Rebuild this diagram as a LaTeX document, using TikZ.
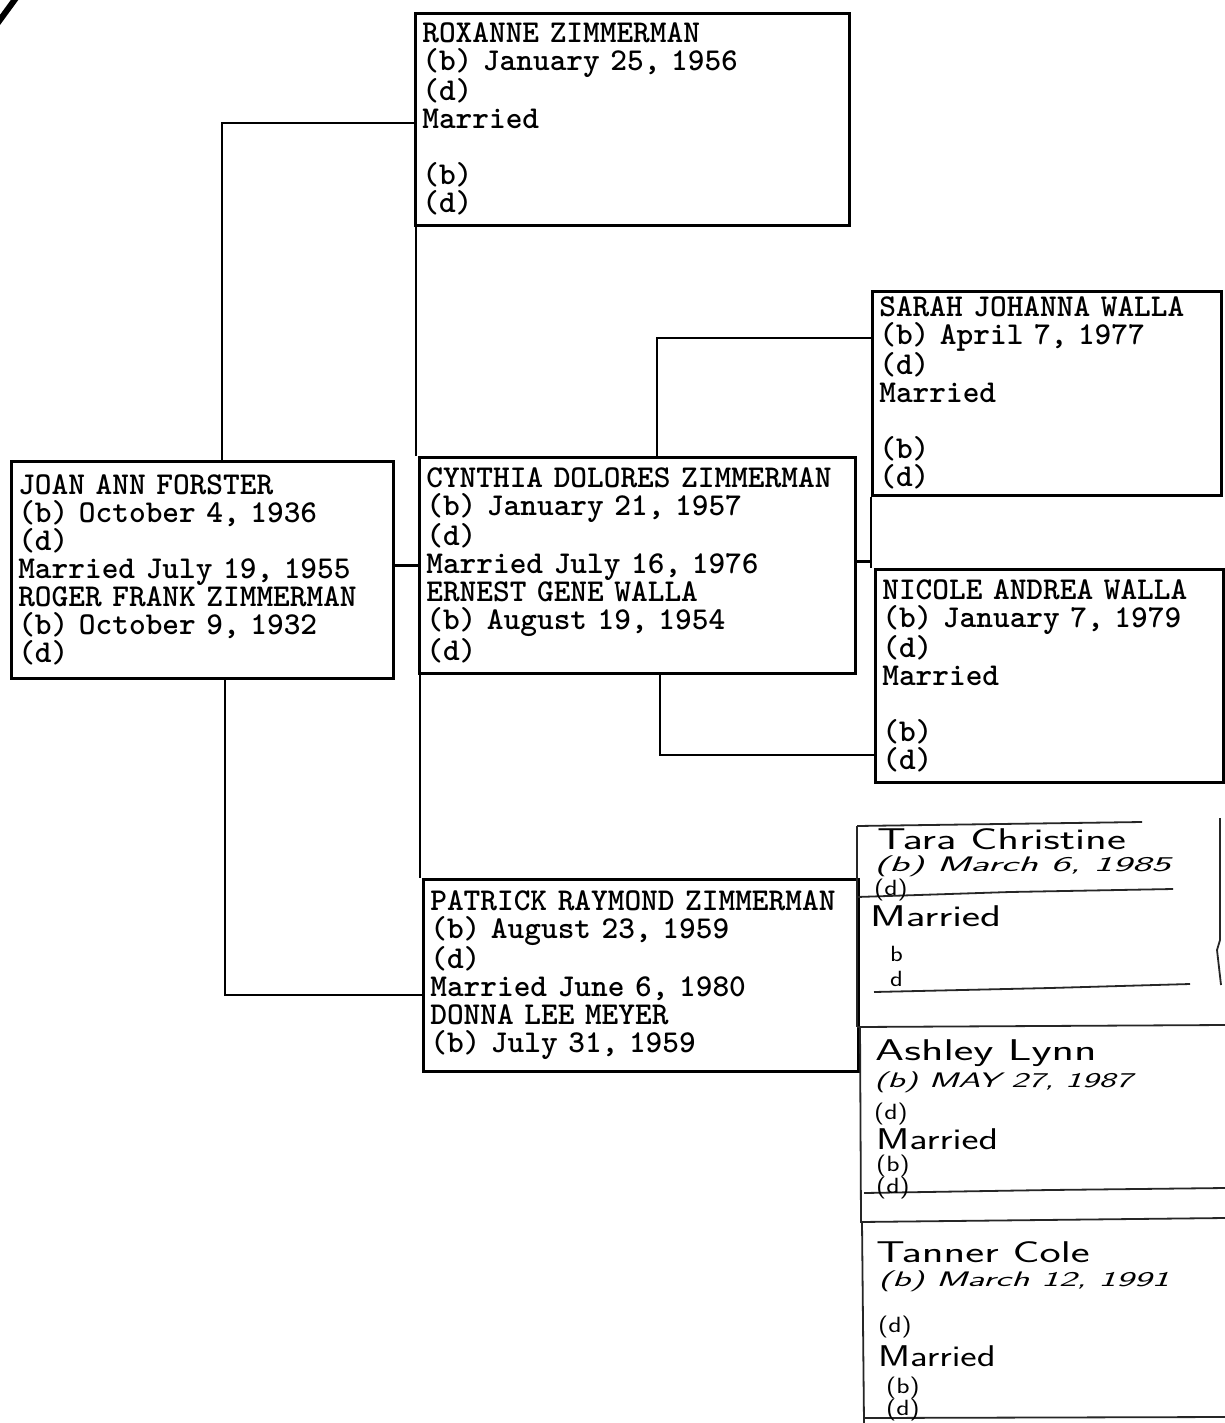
\documentclass[tikz,border=0pt]{standalone}
\usepackage{fontspec}
\usetikzlibrary{calc}
\newcommand\typedfont{\fontsize{31.8pt}{28pt}\selectfont\ttfamily\bfseries}
\newcommand\handfont{\fontsize{30pt}{30pt}\selectfont\sffamily}
\newcommand\handsmall{\fontsize{22pt}{22pt}\selectfont\sffamily}
\newcommand\handdate{\fontsize{21pt}{21pt}\selectfont\sffamily\itshape}
\newcommand\hw[2]{\scalebox{#1}[1]{#2}}
\tikzset{
  famcard/.style={draw, line width=2.6pt, anchor=north west, inner sep=0pt,
    inner xsep=7pt, align=left, font=\typedfont},
  link/.style={line width=2.8pt},
  handline/.style={line width=1.8pt, black!85},
  handname/.style={anchor=base west, inner sep=0pt, font=\handfont},
  handsm/.style={anchor=base west, inner sep=0pt, font=\handsmall},
  handdt/.style={anchor=base west, inner sep=0pt, font=\handdate},
}
\begin{document}
\begin{tikzpicture}[x=1pt,y=-1pt]
\useasboundingbox[fill=white] (0,0) rectangle (1225,1423);

% typed cards
\node[famcard, text width=420pt, minimum height=212pt] (rox) at (414,12)
  {ROXANNE ZIMMERMAN\\(b) January 25, 1956\\(d)\\Married\\\mbox{}\\(b)\\(d)};
\node[famcard, text width=368pt, minimum height=217pt] (joan) at (10,460)
  {JOAN ANN FORSTER\\(b) October 4, 1936\\(d)\\Married July 19, 1955\\ROGER FRANK ZIMMERMAN\\(b) October 9, 1932\\(d)};
\node[famcard, text width=422pt, minimum height=216pt] (cyn) at (418,456)
  {CYNTHIA DOLORES ZIMMERMAN\\(b) January 21, 1957\\(d)\\Married July 16, 1976\\ERNEST GENE WALLA\\(b) August 19, 1954\\(d)};
\node[famcard, text width=335pt, minimum height=204pt] (sarah) at (871,290)
  {SARAH JOHANNA WALLA\\(b) April 7, 1977\\(d)\\Married\\\mbox{}\\(b)\\(d)};
\node[famcard, text width=334pt, minimum height=213pt] (nicole) at (874,568)
  {NICOLE ANDREA WALLA\\(b) January 7, 1979\\(d)\\Married\\\mbox{}\\(b)\\(d)};
\node[famcard, text width=421pt, minimum height=192pt] (pat) at (422,878)
  {PATRICK RAYMOND ZIMMERMAN\\(b) August 23, 1959\\(d)\\Married June 6, 1980\\DONNA LEE MEYER\\(b) July 31, 1959};

% connectors
\draw[link] ([xshift=212pt]joan.north west) |- ([yshift=-111pt]rox.north west);
\draw[link] ([xshift=215pt]joan.south west) |- ([yshift=-117pt]pat.north west);
\draw[link] (joan.east |- cyn.west) -- (cyn.west);
\draw[link] ([xshift=2pt]rox.south west) -- ([xshift=2pt]rox.south west |- cyn.north);
\draw[link] ([xshift=2pt]cyn.south west) -- ([xshift=2pt]cyn.south west |- pat.north);
\draw[link] ([xshift=239pt]cyn.north west) |- ([yshift=-48pt]sarah.north west);
\draw[link] ([xshift=242pt]cyn.south west) |- ([yshift=-187pt]nicole.north west);
\draw[link] (sarah.south west) -- (sarah.south west |- nicole.north);
\draw[link] ([yshift=4pt]cyn.east) -- ([yshift=4pt]cyn.east -| sarah.west);

% scan mark top left
\draw[line width=6pt] (-3,24) -- (16,-2);

% handwritten cards
\draw[handline] (857,826) -- (1000,824) -- (1142,822);
\draw[handline] (857,826) -- (857,1027);
\draw[handline] (857,897) -- (1010,892) -- (1173,889);
\draw[handline] (874,992) -- (1050,988) -- (1190,984);
\draw[handline] (1220,818) -- (1220,940) -- (1217,950) -- (1221,985);
\draw[handline] (857,1027) -- (1225,1025);
\draw[handline] (860,1027) -- (861,1222);
\draw[handline] (864,1193) -- (1050,1190) -- (1225,1188);
\draw[handline] (860,1222) -- (1225,1218);
\draw[handline] (862,1222) -- (864,1423);
\draw[handline] (864,1418) -- (1225,1417);

% handwritten texts
\node[handname] (tara) at (877,849) {\hw{1.5}{Tara Christine}};
\node[handdt] (tarab) at (874,871) {\hw{1.95}{(b) March 6, 1985}};
\node[handsm] (tarad) at (874,895) {\hw{1.25}{(d)}};
\node[handname] (taram) at (870,926) {\hw{1.45}{Married}};
\node[handsm] (tarab2) at (890,961) {\hw{1.2}{b}};
\node[handsm] (tarad2) at (890,986) {\hw{1.2}{d}};

\node[handname] (ash) at (875,1060) {\hw{1.55}{Ashley Lynn}};
\node[handdt] (ashb) at (874,1087) {\hw{1.7}{(b) MAY 27, 1987}};
\node[handsm] (ashd) at (874,1119) {\hw{1.25}{(d)}};
\node[handname] (ashm) at (876,1149) {\hw{1.35}{Married}};
\node[handsm] (ashb2) at (876,1171) {\hw{1.25}{(b)}};
\node[handsm] (ashd2) at (876,1193) {\hw{1.25}{(d)}};

\node[handname] (tan) at (876,1262) {\hw{1.5}{Tanner Cole}};
\node[handdt] (tanb) at (878,1286) {\hw{1.8}{(b) March 12, 1991}};
\node[handsm] (tand) at (878,1332) {\hw{1.25}{(d)}};
\node[handname] (tanm) at (878,1366) {\hw{1.3}{Married}};
\node[handsm] (tanb2) at (886,1393) {\hw{1.25}{(b)}};
\node[handsm] (tand2) at (886,1415) {\hw{1.25}{(d)}};
\end{tikzpicture}
\end{document}
